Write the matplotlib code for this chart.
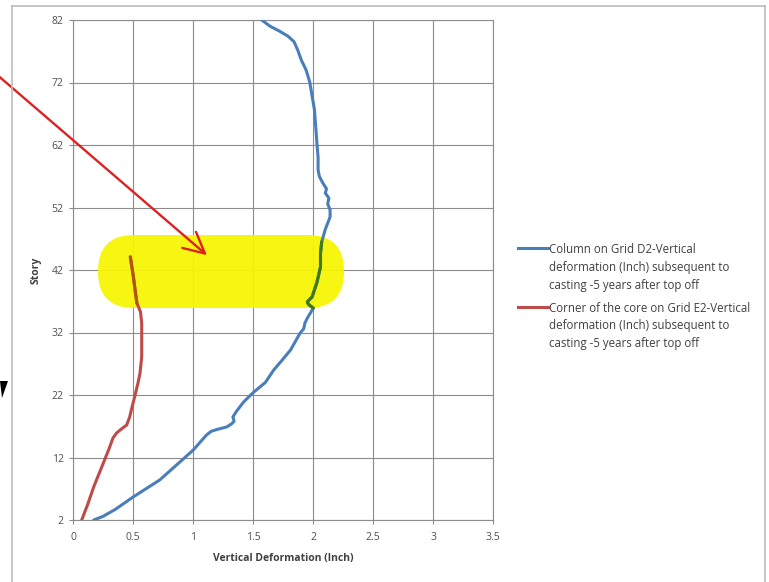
import matplotlib
matplotlib.use("Agg")
import matplotlib.pyplot as plt
import numpy as np
from matplotlib.patches import FancyBboxPatch, Polygon
from matplotlib.lines import Line2D

# ---- data ----
blue_x = [0.17, 0.25, 0.35, 0.50, 0.72, 0.86, 1.00, 1.05, 1.11, 1.15, 1.20, 1.28, 1.32, 1.34,
          1.33, 1.36, 1.42, 1.50, 1.60, 1.67, 1.75, 1.81, 1.89, 1.92, 1.93, 1.95, 2.00, 1.96,
          1.95, 1.99, 2.03, 2.06, 2.06, 2.07, 2.10, 2.14, 2.14, 2.12, 2.13, 2.10, 2.11, 2.08,
          2.05, 2.04, 2.04, 2.03, 2.01, 1.97, 1.94, 1.90, 1.87, 1.84, 1.79, 1.72, 1.64, 1.57]
blue_y = [2.0, 2.6, 3.7, 5.7, 8.4, 10.8, 13.2, 14.3, 15.6, 16.2, 16.5, 16.9, 17.4, 17.8,
          18.5, 19.4, 20.9, 22.4, 24.0, 26.0, 27.8, 29.2, 31.9, 32.6, 33.5, 34.3, 35.9, 36.5,
          36.9, 37.7, 40.0, 42.5, 44.7, 46.5, 48.5, 50.5, 51.6, 52.6, 53.5, 54.3, 55.0, 55.9,
          57.0, 58.0, 60.0, 62.3, 67.6, 72.1, 74.0, 75.6, 77.2, 78.5, 79.4, 80.2, 81.0, 82.0]

red_x = [0.07, 0.12, 0.17, 0.25, 0.30, 0.33, 0.36, 0.39, 0.445, 0.47, 0.49, 0.515, 0.54,
         0.556, 0.57, 0.57, 0.57, 0.56, 0.53, 0.515, 0.50, 0.475]
red_y = [2.0, 4.5, 7.3, 11.1, 13.5, 15.1, 15.9, 16.4, 17.2, 18.5, 20.1, 22.0, 24.0,
         25.5, 28.1, 30.8, 33.5, 35.3, 36.7, 38.8, 41.0, 44.1]

x_ticks = [0, 0.5, 1, 1.5, 2, 2.5, 3, 3.5]
x_tick_labels = ["0", "0.5", "1", "1.5", "2", "2.5", "3", "3.5"]
y_ticks = [2, 12, 22, 32, 42, 52, 62, 72, 82]

label_blue = "Column on Grid D2-Vertical\ndeformation (Inch) subsequent to\ncasting -5 years after top off"
label_red = "Corner of the core on Grid E2-Vertical\ndeformation (Inch) subsequent to\ncasting -5 years after top off"

highlight_lo, highlight_hi = 36.3, 47.4

# ---- figure ----
W, H = 769, 582
fig = plt.figure(figsize=(W / 100, H / 100), dpi=100)
fig.patch.set_facecolor("white")

def fp(x, y):
    return (x / W, 1 - y / H)

l, b = fp(73.3, 520)
r, t = fp(493.3, 20)
ax = fig.add_axes([l, b, r - l, t - b])
ax.set_xlim(0, 3.5)
ax.set_ylim(2, 82)
ax.set_xticks(x_ticks)
ax.set_xticklabels(x_tick_labels)
ax.set_yticks(y_ticks)
grid_c = "#8c8c8c"
ax.grid(True, color=grid_c, linewidth=0.8, zorder=0.5)
ax.set_axisbelow(True)
for s in ax.spines.values():
    s.set_color(grid_c)
    s.set_linewidth(0.8)
ax.tick_params(axis="both", colors=grid_c, length=3, width=0.8, labelcolor="#505050",
               labelsize=7.5)
ax.tick_params(axis="x", pad=6)
ax.tick_params(axis="y", pad=4)
for lab in ax.get_xticklabels() + ax.get_yticklabels():
    lab.set_family("Open Sans")
ax.set_xlabel("Vertical Deformation (Inch)", fontsize=7.5, fontweight="bold", color="#404040",
              family="Open Sans", labelpad=6.5)
ax.set_ylabel("Story", fontsize=7.5, fontweight="bold", color="#404040", family="Open Sans",
              labelpad=7)

# lines
blue_c = "#4a7ebb"
red_c = "#be4b48"
ax.plot(blue_x, blue_y, color=blue_c, linewidth=2.2, zorder=3, solid_capstyle="round",
        solid_joinstyle="round")
ax.plot(red_x, red_y, color=red_c, linewidth=2.2, zorder=3, solid_capstyle="round",
        solid_joinstyle="round")

# yellow highlight (pill shape, in inches)
x0, x1 = 98 / 100, 344 / 100
y0, y1 = (H - 308) / 100, (H - 235) / 100
pill = FancyBboxPatch((x0, y0), x1 - x0, y1 - y0,
                      boxstyle="round,pad=0,rounding_size=0.36",
                      transform=fig.dpi_scale_trans, facecolor="#f6f600", edgecolor="none",
                      alpha=0.93, zorder=2, clip_on=False)
ax.add_patch(pill)

# recolor portions under highlight (multiply-like look)
bx = np.array(blue_x); by = np.array(blue_y)
m = (by >= highlight_lo - 0.6) & (by <= highlight_hi + 0.6)
ax.plot(bx[m], by[m], color="#3f7a12", linewidth=2.2, zorder=4, solid_capstyle="round",
        solid_joinstyle="round")
rx = np.array(red_x); ry = np.array(red_y)
m2 = (ry >= highlight_lo) & (ry <= highlight_hi)
ax.plot(rx[m2], ry[m2], color="#b0560c", linewidth=2.2, zorder=4, solid_capstyle="round",
        solid_joinstyle="round")

# red arrow annotation (figure pixels)
tip = (209, H - 257)
start = (-12, H - 67)
ax.annotate("", xy=tip, xycoords="figure pixels", xytext=start, textcoords="figure pixels",
            arrowprops=dict(arrowstyle="->,head_length=0.75,head_width=0.38",
                            color="#dd2222", linewidth=1.7, mutation_scale=20),
            zorder=6, annotation_clip=False)

# black arrow fragment at left edge
tri = Polygon([fp(0, 381), fp(8, 381), fp(2, 398)], closed=True, transform=fig.transFigure,
              facecolor="black", edgecolor="none")
fig.add_artist(tri)

# chart border
bc = "#bcbcbc"
fig.add_artist(Line2D([12 / W, 12 / W], [0, 1 - 6 / H], transform=fig.transFigure, color=bc, lw=1.2))
fig.add_artist(Line2D([12 / W, 765 / W], [1 - 6 / H, 1 - 6 / H], transform=fig.transFigure, color=bc, lw=1.2))
fig.add_artist(Line2D([765 / W, 765 / W], [0, 1 - 6 / H], transform=fig.transFigure, color=bc, lw=1.2))

# manual legend
def legend_entry(y_px, color, text):
    fig.add_artist(Line2D([518 / W, 548 / W], [1 - y_px / H] * 2, transform=fig.transFigure,
                          color=color, lw=2.2))
    fig.text(549 / W, 1 - (y_px - 5.5) / H, text, fontsize=8.3, color="#404040",
             family="Open Sans", va="top", ha="left", linespacing=1.5)

legend_entry(248, blue_c, label_blue)
legend_entry(307, red_c, label_red)

fig.savefig("out.png", dpi=100)
